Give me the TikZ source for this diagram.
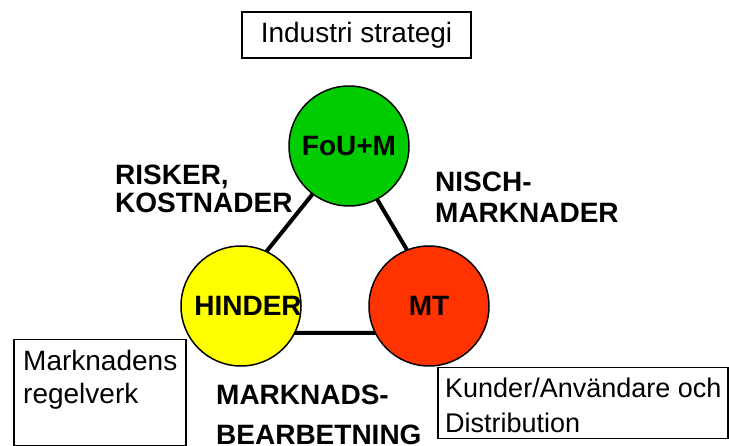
\documentclass[tikz,border=0pt]{standalone}
\usepackage{fontspec}
\setmainfont{Liberation Sans}
\definecolor{cgreen}{RGB}{0,204,0}
\definecolor{cyellow}{RGB}{255,255,0}
\definecolor{cred}{RGB}{255,51,0}
\tikzset{
  ball/.style={circle, draw=black, line width=1.5pt, minimum size=120pt, inner sep=0pt,
    font=\fontsize{28}{28}\selectfont\bfseries},
  edge/.style={line width=4pt, line cap=butt},
  frame/.style={draw=black, line width=1.5pt, inner sep=0pt},
  lbl/.style={anchor=north west, align=left, inner sep=0pt, font=\bfseries},
  txt/.style={anchor=north west, align=left, inner sep=0pt},
}
\begin{document}
\begin{tikzpicture}[x=1pt,y=-1pt]
\useasboundingbox (0,0) rectangle (729,446);
% triangle corners
\coordinate (ta) at (348,150);
\coordinate (tb) at (201,333);
\coordinate (tc) at (456,333);
\draw[edge] (ta) -- (tb) -- (tc) -- cycle;
% circles
\node[ball, fill=cgreen] (fou) at (349,146) {FoU+M};
\node[ball, fill=cyellow] (hinder) at (241,306) {\makebox[0pt][c]{\hspace{14pt}HINDER}};
\node[ball, fill=cred] (mt) at (429,306) {MT};
% top box
\node[frame, minimum width=229pt, minimum height=46pt,
  font=\fontsize{28}{34}\selectfont] (ind) at (356.5,35) {Industri strategi};
% bold labels
\node[lbl, font=\fontsize{28}{28}\selectfont\bfseries] (risk) at (115,165) {RISKER,\\KOSTNADER};
\node[lbl, font=\fontsize{28}{31}\selectfont\bfseries] (nisch) at (435,172) {NISCH-\\MARKNADER};
\node[lbl, font=\fontsize{28}{40}\selectfont\bfseries] (mbear) at (216,385) {MARKNADS-\\BEARBETNING};
% left box
\node[frame, anchor=north west, minimum width=172pt, minimum height=106pt] (mrbox) at (13,339) {};
\node[txt, font=\fontsize{28}{33}\selectfont] (mrtext) at (23,350) {Marknadens\\regelverk};
% right box
\node[frame, anchor=north west, minimum width=290pt, minimum height=71pt] (kbox) at (437,367) {};
\node[txt, font=\fontsize{27}{35}\selectfont] (ktext) at (445,377.5) {Kunder/Användare och\\Distribution};
\end{tikzpicture}
\end{document}
